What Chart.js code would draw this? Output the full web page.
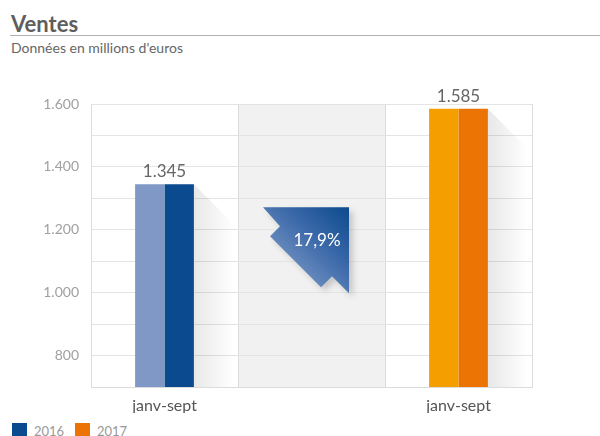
<!DOCTYPE html>
<html>
<head>
<meta charset="utf-8">
<script src="https://cdn.jsdelivr.net/npm/chart.js"></script>
<style>
  body { margin: 0; background: #fff; font-family: Lato, sans-serif; overflow: hidden; }
  #titre { position: absolute; left: 11px; top: 13px; font-size: 22px; line-height: 22px; font-weight: 700; color: #5e5e5e; }
  #trait { position: absolute; left: 10px; top: 35px; width: 590px; height: 1px; background: #b0b0b0; }
  #sous { position: absolute; left: 11px; top: 41px; font-size: 14px; line-height: 14px; color: #666; }
  #chart { position: absolute; left: 0; top: 0; }
  #legende { position: absolute; left: 12px; top: 423px; font-size: 13px; color: #999; }
  #legende span { display: inline-block; vertical-align: top; }
  #legende .box { width: 15px; height: 15px; margin-right: 7px; }
  #legende .txt { width: 36px; margin-right: 5px; line-height: 16px; }
</style>
</head>
<body>
<div id="titre">Ventes</div>
<div id="trait"></div>
<div id="sous">Données en millions d'euros</div>
<canvas id="chart" width="600" height="413"></canvas>
<div id="legende"></div>
<script>
const categories = ['janv-sept', '', 'janv-sept'];
const ventes = [1345, null, 1585];
const years = ['2016', '2017'];
const variation = '17,9%';

const Y_MIN = 700;
const Y_MAX = 1600;
const FONT = 'Lato, sans-serif';

// chaque barre est coupee en deux teintes
const lightColors = ['#7f98c6', null, '#f49e00'];
const darkColors = ['#0b4a8e', null, '#ec7404'];
const yearColors = ['#0b4a8e', '#ec7404'];

const fmt = v => String(v).replace(/\B(?=(\d{3})+(?!\d))/g, '.');

// legende
const leg = document.getElementById('legende');
years.forEach((y, i) => {
  leg.innerHTML += '<span class="box" style="background:' + yearColors[i] + '"></span><span class="txt">' + y + '</span>';
});

const backdrop = {
  id: 'backdrop',
  beforeDraw(chart) {
    const { ctx, chartArea: a, scales: { x } } = chart;
    const w = x.getPixelForValue(1) - x.getPixelForValue(0);
    const cx = x.getPixelForValue(1);
    ctx.save();
    ctx.fillStyle = '#f1f1f1';
    ctx.fillRect(cx - w / 2, a.top, w, a.bottom - a.top);
    ctx.restore();
  },
  beforeDatasetsDraw(chart) {
    // ombre portee a droite des barres
    const { ctx, chartArea: a } = chart;
    const meta = chart.getDatasetMeta(1);
    ctx.save();
    meta.data.forEach((el, i) => {
      if (ventes[i] == null) return;
      const r = el.x + el.width / 2;
      const s = 40;
      const g = ctx.createLinearGradient(r, 0, r + s, 0);
      g.addColorStop(0, 'rgba(0,0,0,0.09)');
      g.addColorStop(1, 'rgba(0,0,0,0)');
      ctx.fillStyle = g;
      ctx.beginPath();
      ctx.moveTo(r, el.y);
      ctx.lineTo(r + s, el.y + s);
      ctx.lineTo(r + s, a.bottom);
      ctx.lineTo(r, a.bottom);
      ctx.closePath();
      ctx.fill();
    });
    ctx.restore();
  },
  afterDatasetsDraw(chart) {
    const { ctx, scales: { x, y } } = chart;
    const meta = chart.getDatasetMeta(0);
    ctx.save();
    ctx.fillStyle = '#666';
    ctx.font = '17px ' + FONT;
    ctx.textAlign = 'center';
    ctx.textBaseline = 'alphabetic';
    meta.data.forEach((el, i) => {
      if (ventes[i] == null) return;
      ctx.fillText(fmt(ventes[i]), el.x + el.width / 2, el.y - 7);
    });

    // fleche de variation
    const left = x.getPixelForValue(1) - 48.5;
    const top = y.getPixelForValue(1272);
    const pts = [[0, 0], [86, 0], [86, 86], [69, 69], [58, 80], [7, 29], [17, 19]];
    const g = ctx.createLinearGradient(left + 10, top + 80, left + 86, top);
    g.addColorStop(0, '#8ea6d0');
    g.addColorStop(0.6, '#3a68a8');
    g.addColorStop(1, '#0b4a8e');
    ctx.shadowColor = 'rgba(0,0,0,0.18)';
    ctx.shadowBlur = 6;
    ctx.shadowOffsetX = 4;
    ctx.shadowOffsetY = 4;
    ctx.fillStyle = g;
    ctx.beginPath();
    pts.forEach(([px, py], k) => k ? ctx.lineTo(left + px, top + py) : ctx.moveTo(left + px, top + py));
    ctx.closePath();
    ctx.fill();
    ctx.shadowColor = 'transparent';
    ctx.fillStyle = '#fff';
    ctx.font = '17px ' + FONT;
    ctx.textBaseline = 'middle';
    ctx.fillText(variation, left + 54, top + 33);
    ctx.restore();
  }
};

new Chart(document.getElementById('chart'), {
  type: 'bar',
  data: {
    labels: categories,
    datasets: [
      { label: 'clair', data: ventes, backgroundColor: lightColors },
      { label: 'fonce', data: ventes, backgroundColor: darkColors }
    ]
  },
  options: {
    responsive: false,
    animation: false,
    layout: { padding: { left: 2, right: 68, top: 104, bottom: 0 } },
    datasets: { bar: { categoryPercentage: 0.4, barPercentage: 1.0 } },
    plugins: { legend: { display: false }, tooltip: { enabled: false } },
    scales: {
      x: {
        grid: { offset: true, color: '#dcdcdc', drawTicks: false },
        border: { color: '#dcdcdc' },
        ticks: { font: { family: FONT, size: 16 }, color: '#555', padding: 9 },
        afterFit: s => { s.height = 26; }
      },
      y: {
        min: Y_MIN,
        max: Y_MAX,
        grid: { color: '#e4e4e4', drawTicks: false },
        border: { display: false },
        ticks: {
          stepSize: 100,
          autoSkip: false,
          padding: 12,
          color: '#a0a0a0',
          font: { family: FONT, size: 14 },
          callback: v => (v >= 800 && v % 200 === 0) ? fmt(v) : ''
        },
        afterFit: s => { s.width = 89; }
      }
    }
  },
  plugins: [backdrop]
});
</script>
</body>
</html>
